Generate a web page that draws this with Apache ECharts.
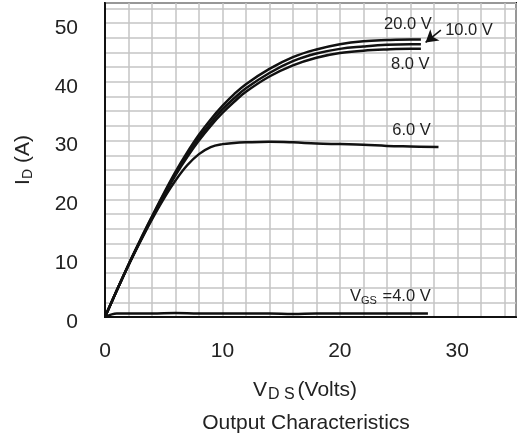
<!DOCTYPE html>
<html lang="en">
<head>
    <meta charset="UTF-8">
    <title>Output Characteristics</title>
    <style>
        html, body { margin: 0; padding: 0; background: #fff; }
    </style>
</head>
<body>
    <div id="main" style="width:519px;height:443px;"></div>
    <script src="https://cdn.jsdelivr.net/npm/echarts@6/dist/echarts.min.js"></script>
    <script>
        // V_DS sample points (volts) for each V_GS curve
        var vdsHigh = [0, 1, 2, 3, 4, 5, 6, 7, 8, 9, 10, 11, 12, 14, 16, 18, 20, 22, 24, 26, 26.9];
        var id20 = [0, 4.5, 8.9, 13.1, 17.1, 21.0, 24.7, 28.0, 31.0, 33.6, 35.9, 37.9, 39.6, 42.2, 44.2, 45.5, 46.4, 46.9, 47.1, 47.2, 47.2];
        var id10 = [0, 4.5, 8.9, 13.0, 17.0, 20.8, 24.4, 27.6, 30.5, 33.0, 35.3, 37.2, 38.9, 41.5, 43.5, 44.8, 45.6, 46.0, 46.3, 46.4, 46.4];
        var id8 = [0, 4.5, 8.8, 12.9, 16.8, 20.6, 24.1, 27.2, 30.0, 32.5, 34.7, 36.6, 38.3, 40.9, 42.8, 44.1, 44.9, 45.3, 45.5, 45.6, 45.6];

        var vds6 = [0, 1, 2, 3, 4, 5, 6, 7, 8, 9, 10, 11, 12, 14, 16, 18, 20, 22, 24, 26, 28.4];
        var id6 = [0, 4.5, 8.8, 12.8, 16.6, 20.1, 23.2, 25.8, 27.7, 28.9, 29.4, 29.6, 29.7, 29.8, 29.7, 29.5, 29.4, 29.3, 29.1, 29.0, 28.9];

        var vds4 = [0, 0.5, 1, 1.5, 2, 4, 6, 8, 10, 12, 14, 16, 18, 20, 22, 24, 26, 27.5];
        var id4 = [0, 0.4, 0.6, 0.6, 0.6, 0.6, 0.7, 0.6, 0.6, 0.6, 0.6, 0.5, 0.6, 0.6, 0.6, 0.6, 0.6, 0.6];

        var xTickLabels = [0, 10, 20, 30];
        var yTickLabels = [0, 10, 20, 30, 40, 50];

        function pairs(xs, ys) {
            var out = [];
            for (var i = 0; i < xs.length; i++) {
                out.push([xs[i], ys[i]]);
            }
            return out;
        }

        var font = 'Liberation Sans, Arial, sans-serif';
        var lineStyle = { color: '#111', width: 2.5 };

        function curve(name, xs, ys) {
            return {
                name: name,
                type: 'line',
                smooth: 0.4,
                showSymbol: false,
                silent: true,
                lineStyle: lineStyle,
                itemStyle: { color: '#111' },
                data: pairs(xs, ys)
            };
        }

        function note(text, x, y) {
            return {
                coord: [x, y],
                symbolSize: 0,
                label: {
                    show: true,
                    position: 'inside',
                    formatter: text,
                    color: '#222',
                    fontSize: 16.5,
                    fontFamily: font,
                    rich: {
                        n: { fontSize: 16.5, lineHeight: 18, color: '#222', fontFamily: font },
                        s: { fontSize: 11, lineHeight: 11, padding: [9, 1, 0, 0], color: '#222', fontFamily: font }
                    }
                }
            };
        }

        var s4 = curve('4.0 V', vds4, id4);
        s4.markPoint = {
            silent: true,
            data: [
                note('20.0 V', 25.8, 49.7),
                note('10.0 V', 31.0, 48.8),
                note('8.0 V', 26.0, 42.9),
                note('6.0 V', 26.1, 31.8),
                note('{n|V}{s|GS}{n| =4.0 V}', 24.3, 3.5)
            ]
        };
        s4.markLine = {
            silent: true,
            symbol: ['none', 'arrow'],
            symbolSize: [11, 12],
            label: { show: false },
            lineStyle: { color: '#111', width: 1.5, type: 'solid' },
            data: [[{ coord: [28.6, 48.8] }, { coord: [27.3, 46.7] }]]
        };

        var myChart = echarts.init(document.getElementById('main'));
        var option = {
            animation: false,
            backgroundColor: '#fff',
            title: [{
                text: '{a|V}{b|D S}{a|(Volts)}',
                left: 300,
                top: 373,
                textAlign: 'center',
                textStyle: {
                    fontWeight: 'normal',
                    rich: {
                        a: { fontSize: 21, lineHeight: 24, fontWeight: 'normal', color: '#222', fontFamily: font },
                        b: { fontSize: 16, lineHeight: 16, fontWeight: 'normal', padding: [9, 3, 0, 1], color: '#222', fontFamily: font }
                    }
                }
            }, {
                text: 'Output Characteristics',
                left: 301,
                top: 408,
                textAlign: 'center',
                textStyle: { fontSize: 21, fontWeight: 'normal', color: '#222', fontFamily: font }
            }],
            grid: {
                left: 105,
                right: 1,
                top: 3,
                bottom: 126,
                show: true,
                borderColor: '#111',
                borderWidth: 2
            },
            xAxis: {
                type: 'value',
                min: 0,
                max: 35,
                interval: 2,
                axisLine: { show: true, lineStyle: { color: '#111', width: 2 } },
                axisTick: { show: false },
                splitLine: { lineStyle: { color: '#c4c4c4', width: 1.5 } },
                axisLabel: {
                    margin: 24,
                    fontSize: 21,
                    color: '#222',
                    fontFamily: font,
                    formatter: function (v) {
                        return xTickLabels.indexOf(v) >= 0 ? String(v) : '';
                    }
                }
            },
            yAxis: {
                type: 'value',
                min: 0,
                max: 53.4,
                interval: 2.5,
                name: '{a|I}{b|D}{a| (A)}',
                nameLocation: 'middle',
                nameRotate: 90,
                nameGap: 70,
                nameTextStyle: {
                    rich: {
                        a: { fontSize: 21, lineHeight: 24, color: '#222', fontFamily: font },
                        b: { fontSize: 14, lineHeight: 14, padding: [10, 0, 0, 0], color: '#222', fontFamily: font }
                    }
                },
                axisLine: { show: true, lineStyle: { color: '#111', width: 2 } },
                axisTick: { show: false },
                splitLine: { lineStyle: { color: '#c4c4c4', width: 1.5 } },
                axisLabel: {
                    margin: 27,
                    color: '#222',
                    formatter: function (v) {
                        return yTickLabels.indexOf(v) >= 0 ? '{p|' + v + '}' : '';
                    },
                    rich: {
                        p: { fontSize: 21, lineHeight: 22, padding: [10, 0, 0, 0], color: '#222', fontFamily: font }
                    }
                }
            },
            series: [
                curve('20.0 V', vdsHigh, id20),
                curve('10.0 V', vdsHigh, id10),
                curve('8.0 V', vdsHigh, id8),
                curve('6.0 V', vds6, id6),
                s4
            ]
        };
        myChart.setOption(option);
    </script>
</body>
</html>
